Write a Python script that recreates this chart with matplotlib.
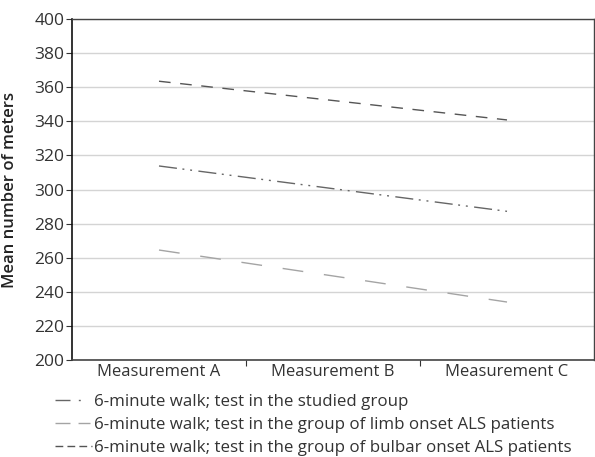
import matplotlib
matplotlib.use("Agg")
import matplotlib.pyplot as plt
from matplotlib.lines import Line2D

plt.rcParams['font.family'] = ['Open Sans', 'DejaVu Sans']

categories = ["Measurement A", "Measurement B", "Measurement C"]
studied = [313.8, 300.5, 287.2]
limb = [264.5, 249.3, 234.0]
bulbar = [363.5, 352.2, 340.8]
labels = ["6-minute walk; test in the studied group",
          "6-minute walk; test in the group of limb onset ALS patients",
          "6-minute walk; test in the group of bulbar onset ALS patients"]
yticks = list(range(200, 401, 20))

c_studied = "#666666"
c_limb = "#a4a4a4"
c_bulbar = "#555555"

fig = plt.figure(figsize=(5.95, 4.57), dpi=100)
ax = fig.add_axes([72/595, 1-360/457, 522/595, 341/457])

x = list(range(len(categories)))
ax.plot(x, studied, color=c_studied, lw=1.0, dashes=(13, 4, 1.4, 4.2, 1.4, 4.6))
ax.plot(x, limb, color=c_limb, lw=1.0, dashes=(15, 15))
ax.plot(x, bulbar, color=c_bulbar, lw=1.0, dashes=(8.4, 6.9))

ax.set_xlim(-0.5, 2.5)
ax.set_ylim(200, 400)
ax.set_yticks(yticks)
ax.set_yticklabels([str(v) for v in yticks], fontsize=12.5, color="#333333")
ax.set_xticks([0.5, 1.5])
ax.set_xticklabels([])
ax.set_xticks(x, minor=True)
ax.set_xticklabels(categories, minor=True, fontsize=12, color="#333333")
ax.tick_params(axis='x', which='minor', length=0, pad=3)
ax.tick_params(axis='x', which='major', length=4, color="#333333")
ax.tick_params(axis='y', length=4.5, color="#333333", pad=1)
ax.grid(axis='y', color="#d4d4d4", lw=1.0)
ax.set_axisbelow(True)
for s in ['top', 'right']:
    ax.spines[s].set_color("#444444")
    ax.spines[s].set_linewidth(1.0)
ax.spines['left'].set_color("#111111")
ax.spines['left'].set_linewidth(1.2)
ax.spines['bottom'].set_color("#444444")
ax.spines['bottom'].set_linewidth(1.2)
ax.set_ylabel("Mean number of meters", fontsize=12, fontweight='semibold', color="#222222")
ax.yaxis.set_label_coords((18-72)/522, 0.5)

h1 = Line2D([], [], color=c_studied, lw=1.0, dashes=(10.8, 6, 1.4, 20))
h2 = Line2D([], [], color=c_limb, lw=1.0, dashes=(10.8, 5.8, 8.6, 10))
h3 = Line2D([], [], color=c_bulbar, lw=1.0, dashes=(5.6, 3.0))
fig.legend([h1, h2, h3], labels, loc='upper left', bbox_to_anchor=(55/595, 1-394/457),
           frameon=False, fontsize=12.2, handlelength=2.2, handletextpad=0.1,
           labelspacing=0.42, borderaxespad=0, borderpad=0, labelcolor="#333333")

fig.savefig("out.png", dpi=100)
